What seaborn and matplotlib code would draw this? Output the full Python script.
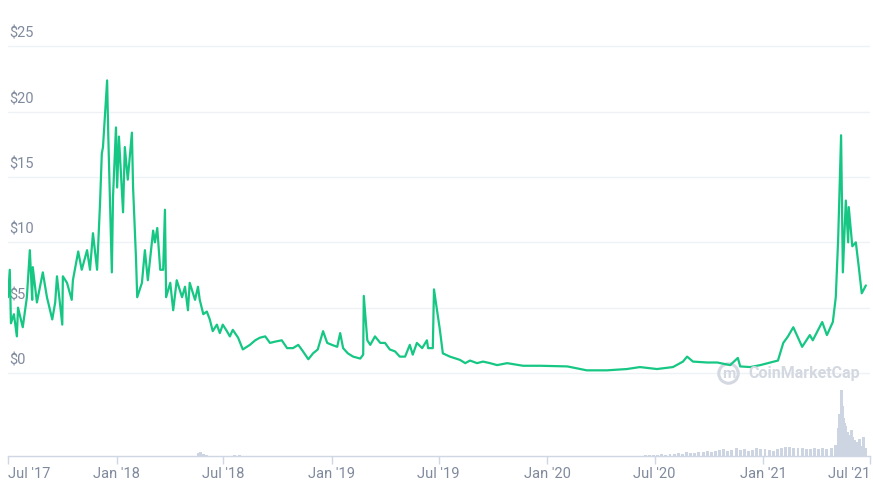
import pandas as pd
import matplotlib
matplotlib.use("Agg")
import matplotlib.pyplot as plt
import matplotlib.transforms as mtransforms
import seaborn as sns

# -------------------------
# Data
# -------------------------
price_dates = [
    "2017-07-01", "2017-07-04", "2017-07-06", "2017-07-11", "2017-07-16", "2017-07-18",
    "2017-07-26", "2017-08-02", "2017-08-07", "2017-08-11", "2017-08-12", "2017-08-19",
    "2017-08-29", "2017-09-05", "2017-09-14", "2017-09-19", "2017-09-22", "2017-10-01",
    "2017-10-02", "2017-10-09", "2017-10-17", "2017-10-19", "2017-10-28", "2017-11-03",
    "2017-11-12", "2017-11-17", "2017-11-22", "2017-11-29", "2017-12-04", "2017-12-07",
    "2017-12-09", "2017-12-16", "2017-12-18", "2017-12-21", "2017-12-24", "2017-12-26",
    "2017-12-31", "2018-01-02", "2018-01-05", "2018-01-12", "2018-01-15", "2018-01-20",
    "2018-01-27", "2018-01-29", "2018-02-03", "2018-02-05", "2018-02-13", "2018-02-18",
    "2018-02-23", "2018-03-04", "2018-03-07", "2018-03-11", "2018-03-16", "2018-03-21",
    "2018-03-24", "2018-03-26", "2018-04-02", "2018-04-07", "2018-04-13", "2018-04-22",
    "2018-04-27", "2018-05-02", "2018-05-05", "2018-05-14", "2018-05-19", "2018-05-22",
    "2018-05-28", "2018-06-03", "2018-06-08", "2018-06-13", "2018-06-20", "2018-06-25",
    "2018-06-30", "2018-07-07", "2018-07-12", "2018-07-17", "2018-07-26", "2018-08-03",
    "2018-08-15", "2018-08-24", "2018-09-01", "2018-09-10", "2018-09-18", "2018-09-27",
    "2018-10-08", "2018-10-17", "2018-10-27", "2018-11-05", "2018-11-13", "2018-11-22",
    "2018-11-30", "2018-12-08", "2018-12-17", "2018-12-24", "2019-01-01", "2019-01-10",
    "2019-01-15", "2019-01-20", "2019-01-28", "2019-02-06", "2019-02-18", "2019-02-23",
    "2019-02-24", "2019-03-02", "2019-03-07", "2019-03-15", "2019-03-24", "2019-04-01",
    "2019-04-09", "2019-04-18", "2019-04-26", "2019-05-05", "2019-05-13", "2019-05-18",
    "2019-05-25", "2019-06-03", "2019-06-11", "2019-06-13", "2019-06-21", "2019-06-23",
    "2019-06-28", "2019-07-03", "2019-07-08", "2019-07-20", "2019-08-06", "2019-08-15",
    "2019-08-23", "2019-09-04", "2019-09-14", "2019-09-26", "2019-10-08", "2019-10-25",
    "2019-11-21", "2019-12-20", "2020-02-04", "2020-03-08", "2020-04-11", "2020-05-15",
    "2020-06-06", "2020-07-05", "2020-08-01", "2020-08-18", "2020-08-25", "2020-09-04",
    "2020-09-28", "2020-10-15", "2020-11-06", "2020-11-19", "2020-11-23", "2020-12-10",
    "2020-12-27", "2021-01-13", "2021-01-26", "2021-02-04", "2021-02-12", "2021-02-21",
    "2021-03-08", "2021-03-21", "2021-03-26", "2021-04-11", "2021-04-19", "2021-04-29",
    "2021-05-04", "2021-05-08", "2021-05-13", "2021-05-16", "2021-05-21", "2021-05-25",
    "2021-05-26", "2021-06-01", "2021-06-07", "2021-06-12", "2021-06-17", "2021-06-24",
]
price_usd = [
    5.8, 7.9, 3.8, 4.5, 2.8, 5.0,
    3.5, 5.8, 9.4, 5.6, 8.1, 5.4,
    7.7, 5.8, 4.1, 5.4, 7.4, 3.7,
    7.4, 6.9, 5.6, 7.1, 9.3, 7.9,
    9.4, 7.9, 10.7, 7.9, 13.0, 16.8,
    17.3, 22.4, 18.1, 13.0, 7.7, 13.5,
    18.8, 14.2, 18.1, 12.3, 17.3, 14.8,
    18.4, 14.2, 8.7, 5.8, 6.9, 9.4,
    7.1, 10.9, 10.0, 11.1, 7.9, 7.9,
    12.5, 5.8, 6.9, 4.8, 7.1, 5.8,
    6.6, 4.8, 6.9, 5.6, 6.6, 5.6,
    4.5, 4.7, 4.1, 3.2, 3.7, 3.05,
    3.7, 3.2, 2.8, 3.3, 2.7, 1.8,
    2.15, 2.5, 2.7, 2.8, 2.3, 2.4,
    2.5, 1.9, 1.9, 2.15, 1.65, 1.05,
    1.5, 1.8, 3.2, 2.3, 2.15, 2.0,
    3.05, 1.9, 1.5, 1.25, 1.1, 1.4,
    5.9, 2.5, 2.15, 2.8, 2.3, 2.3,
    1.8, 1.65, 1.25, 1.25, 2.15, 1.4,
    2.3, 1.9, 2.5, 1.9, 1.9, 6.4,
    4.85, 3.3, 1.5, 1.25, 1.0, 0.75,
    0.95, 0.75, 0.87, 0.75, 0.6, 0.75,
    0.55, 0.55, 0.5, 0.2, 0.2, 0.3,
    0.45, 0.3, 0.45, 0.87, 1.25, 0.87,
    0.8, 0.8, 0.6, 1.15, 0.5, 0.45,
    0.6, 0.8, 0.95, 2.3, 2.8, 3.5,
    2.0, 2.9, 2.5, 3.9, 2.9, 3.9,
    5.8, 10.2, 18.2, 7.7, 13.2, 10.0,
    12.7, 9.7, 10.0, 8.1, 6.1, 6.7,
]

volume_dates = [
    "2018-05-20", "2018-05-24", "2018-05-28", "2018-06-02", "2018-07-20", "2018-07-28",
    "2020-06-15", "2020-06-22", "2020-06-29", "2020-07-06", "2020-07-13", "2020-07-20",
    "2020-07-27", "2020-08-03", "2020-08-10", "2020-08-17", "2020-08-24", "2020-08-31",
    "2020-09-07", "2020-09-14", "2020-09-21", "2020-09-28", "2020-10-05", "2020-10-12",
    "2020-10-19", "2020-10-26", "2020-11-02", "2020-11-09", "2020-11-16", "2020-11-23",
    "2020-11-30", "2020-12-07", "2020-12-14", "2020-12-21", "2020-12-28", "2021-01-04",
    "2021-01-11", "2021-01-18", "2021-01-25", "2021-02-01", "2021-02-08", "2021-02-15",
    "2021-02-22", "2021-03-01", "2021-03-08", "2021-03-15", "2021-03-22", "2021-03-29",
    "2021-04-05", "2021-04-12", "2021-04-19", "2021-04-26", "2021-05-03", "2021-05-08",
    "2021-05-11", "2021-05-13", "2021-05-15", "2021-05-17", "2021-05-19", "2021-05-21",
    "2021-05-24", "2021-05-27", "2021-05-30", "2021-06-02", "2021-06-05", "2021-06-08",
    "2021-06-11", "2021-06-14", "2021-06-17", "2021-06-20", "2021-06-23",
]
volume_musd = [
    35, 40, 25, 15, 12, 10,
    8, 10, 12, 15, 20, 15,
    25, 20, 30, 25, 40, 30,
    35, 45, 40, 55, 45, 50,
    60, 70, 55, 60, 90, 65,
    70, 50, 60, 80, 75, 70,
    60, 55, 70, 90, 100, 95,
    90, 85, 80, 75, 70, 80,
    75, 85, 70, 80, 120, 300,
    450, 700, 530, 400, 350, 320,
    250, 220, 280, 200, 170, 150,
    120, 180, 110, 200, 90,
]

y_ticks = [0, 5, 10, 15, 20, 25]
x_tick_dates = ["2017-07-01", "2018-01-01", "2018-07-01", "2019-01-01", "2019-07-01",
                "2020-01-01", "2020-07-01", "2021-01-01", "2021-07-01"]
x_tick_labels = ["Jul '17", "Jan '18", "Jul '18", "Jan '19", "Jul '19",
                 "Jan '20", "Jul '20", "Jan '21", "Jul '21"]

# -------------------------
# Styling
# -------------------------
sns.set_theme(style="white")
plt.rcParams["font.family"] = ["Liberation Sans Narrow", "Roboto", "DejaVu Sans"]

green = "#16c784"
label_gray = "#808a9d"
grid_gray = "#eff2f5"
axis_gray = "#cfd6e4"
volume_color = "#cdd4e2"
mark_gray = "#d3d8e1"

df = pd.DataFrame({"date": pd.to_datetime(price_dates), "price": price_usd})
vol = pd.DataFrame({"date": pd.to_datetime(volume_dates), "volume": volume_musd})
x_start, x_end = pd.Timestamp("2017-07-01"), pd.Timestamp("2021-07-01")

fig = plt.figure(figsize=(8.73, 4.90), dpi=100)

# ==================================================
# Price panel
# ==================================================
ax = fig.add_axes([8 / 873, 110 / 490, 862 / 873, 350 / 490])
for v in y_ticks:
    ax.axhline(v, color=grid_gray, lw=1, zorder=0)
trans = mtransforms.blended_transform_factory(ax.transAxes, ax.transData)
for v in y_ticks:
    ax.annotate(f"${v}", xy=(0.002, v), xycoords=trans, xytext=(0, 4),
                textcoords="offset points", ha="left", va="bottom",
                color=label_gray, fontsize=10.5, zorder=1)

sns.lineplot(data=df, x="date", y="price", ax=ax, color=green, lw=1.6, zorder=3)

ax.set_xlim(x_start, x_end)
ax.set_ylim(-0.54, 26.26)
ax.set_xticks([])
ax.set_yticks([])
ax.set_xlabel("")
ax.set_ylabel("")
for s in ax.spines.values():
    s.set_visible(False)
ax.patch.set_alpha(0)

# watermark (ring logo + wordmark)
ax.plot([0.834], [0.238], marker="o", markersize=14, markerfacecolor="none",
        markeredgecolor=mark_gray, markeredgewidth=2.2,
        transform=fig.transFigure, clip_on=False, zorder=2)
fig.text(0.835, 0.237, "m", color=mark_gray, fontsize=11, fontweight="bold",
         ha="center", va="center")
fig.text(0.857, 0.238, "CoinMarketCap", color=mark_gray, fontsize=11.5,
         fontweight="bold", ha="left", va="center")

# ==================================================
# Volume panel
# ==================================================
axv = fig.add_axes([8 / 873, 34 / 490, 862 / 873, 71 / 490])
axv.bar(vol["date"], vol["volume"], width=5, color=volume_color, lw=0)
axv.set_xlim(x_start, x_end)
axv.set_ylim(0, 753)
axv.set_yticks([])
for name, s in axv.spines.items():
    s.set_visible(name == "bottom")
axv.spines["bottom"].set_color(axis_gray)
axv.spines["bottom"].set_linewidth(1)
axv.patch.set_alpha(0)

axv.set_xticks(pd.to_datetime(x_tick_dates))
axv.set_xticklabels(x_tick_labels)
axv.tick_params(axis="x", bottom=True, length=6, width=1, color=axis_gray,
                labelcolor=label_gray, labelsize=10.5, pad=2)
labels = axv.get_xticklabels()
labels[0].set_ha("left")
labels[-1].set_ha("right")

fig.savefig("out.png", dpi=100)
